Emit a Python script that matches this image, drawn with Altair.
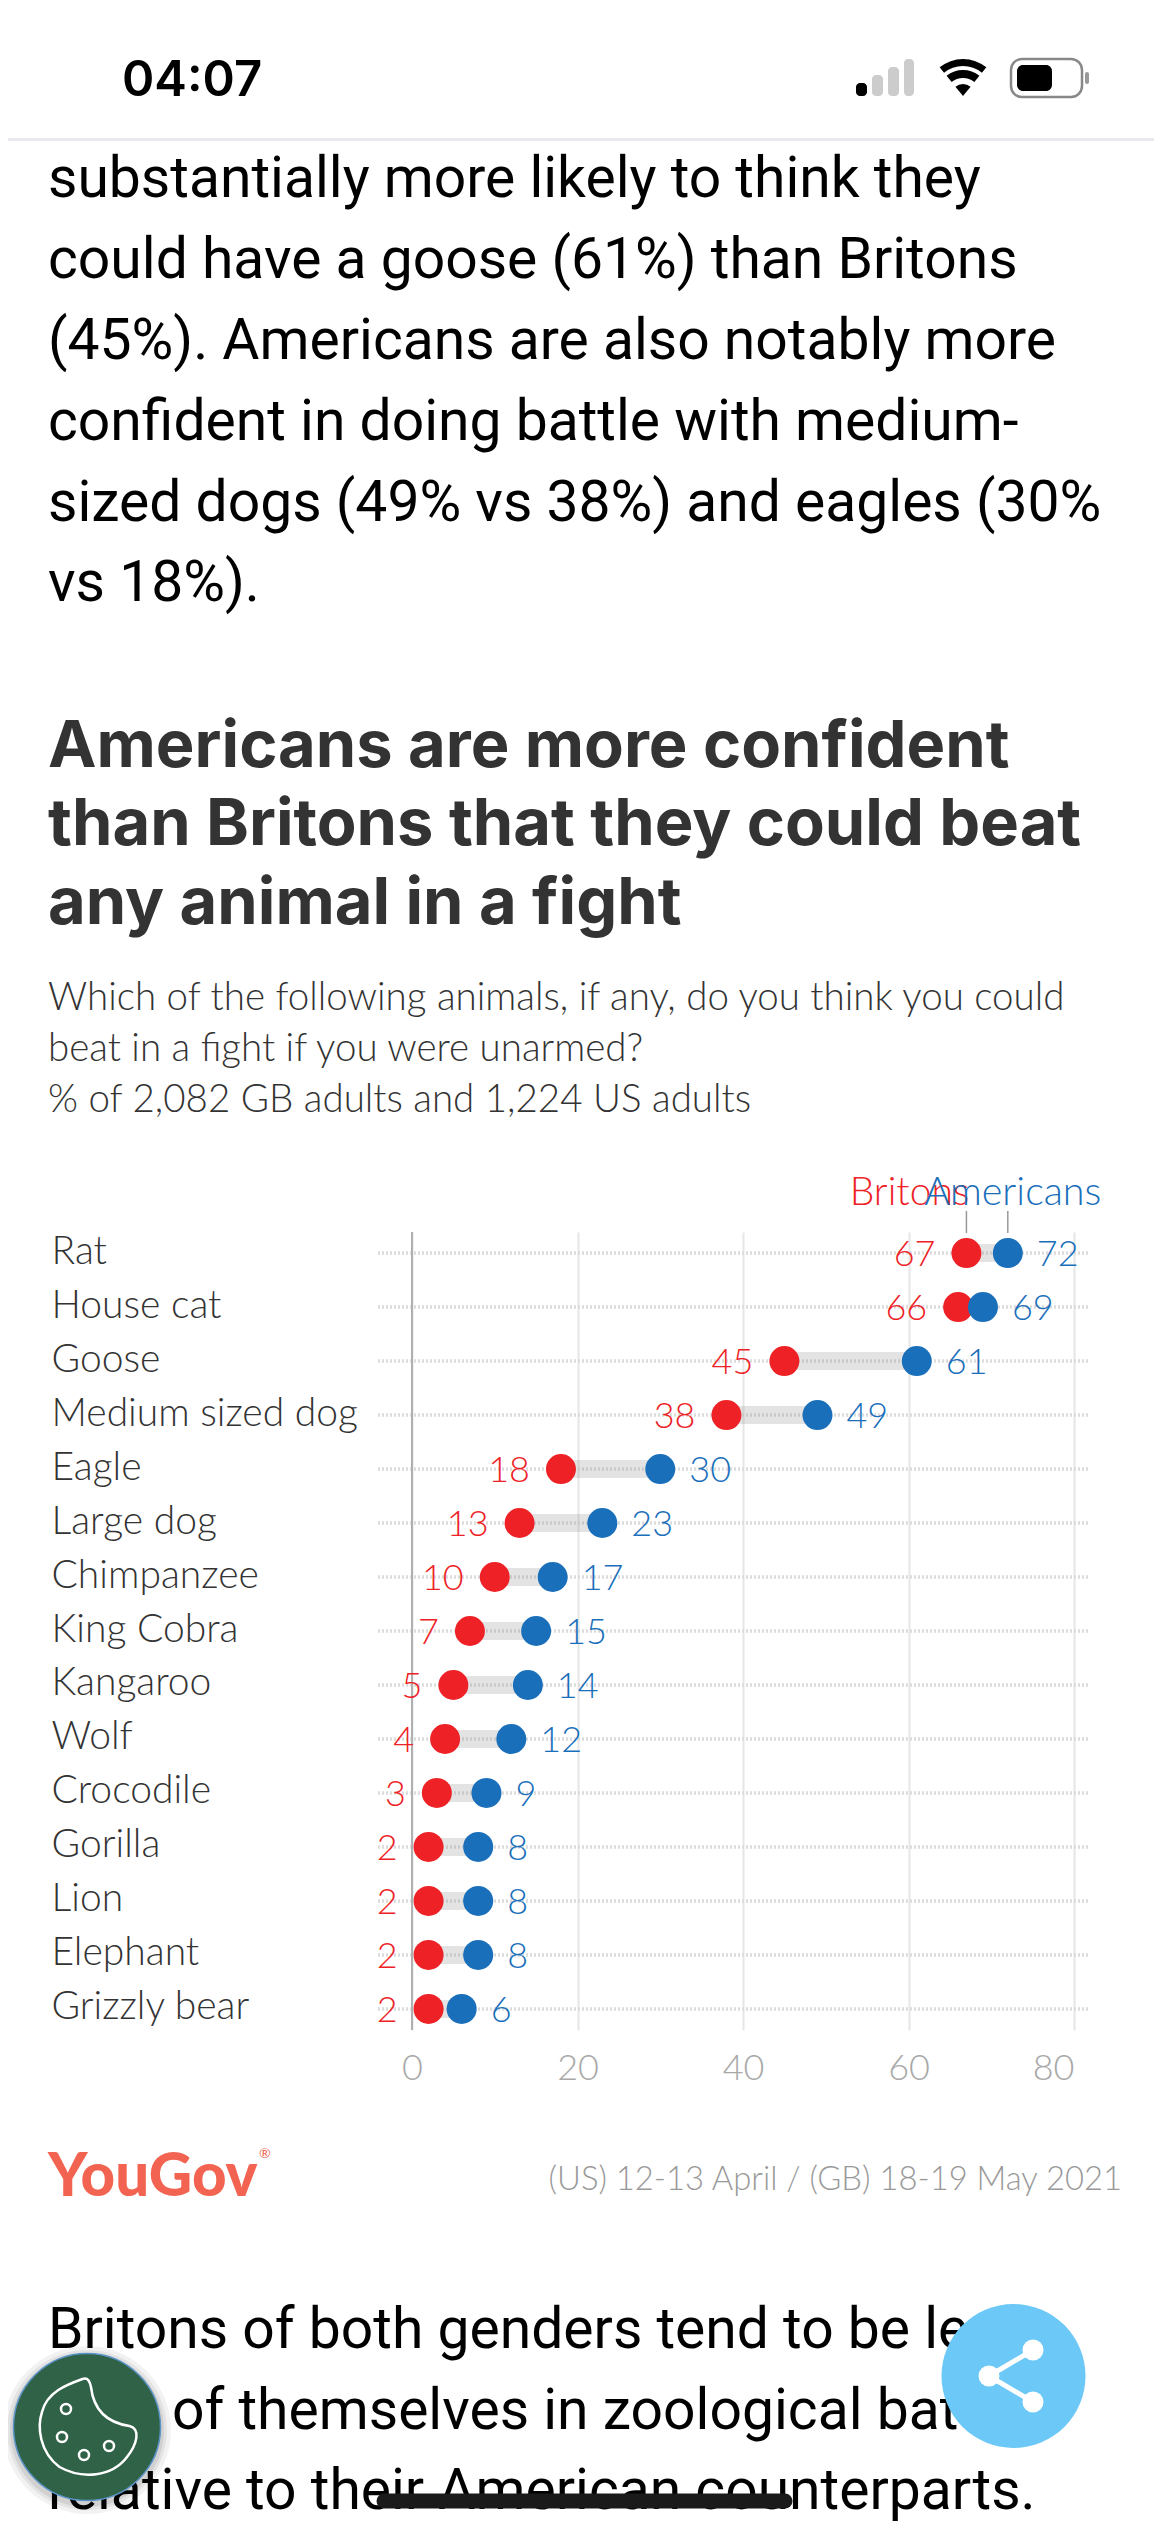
import altair as alt
import pandas as pd

animals = ["Rat","House cat","Goose","Medium sized dog","Eagle","Large dog","Chimpanzee","King Cobra",
           "Kangaroo","Wolf","Crocodile","Gorilla","Lion","Elephant","Grizzly bear"]
britons = [67,66,45,38,18,13,10,7,5,4,3,2,2,2,2]
americans = [72,69,61,49,30,23,17,15,14,12,9,8,8,8,6]
ticks = [0,20,40,60,80]

body_top = ["substantially more likely to think they","could have a goose (61%) than Britons",
            "(45%). Americans are also notably more","confident in doing battle with medium-",
            "sized dogs (49% vs 38%) and eagles (30%","vs 18%)."]
heading = ["Americans are more confident","than Britons that they could beat","any animal in a fight"]
subtitle = ["Which of the following animals, if any, do you think you could","beat in a fight if you were unarmed?",
            "% of 2,082 GB adults and 1,224 US adults"]
body_bottom = ["Britons of both genders tend to be less","sure of themselves in zoological battles",
               "relative to their American counterparts."]
source = "(US) 12-13 April / (GB) 18-19 May 2021"

RED, BLUE = "#ee2226", "#1a6fba"
OX, OY = 412, 1232
X = lambda v: v - OX
Y = lambda v: v - OY

df = pd.DataFrame({"animal": animals, "Britons": britons, "Americans": americans})
x_axis = alt.Axis(values=ticks, domain=False, ticks=False, grid=True, gridColor="#e6e6e6", gridWidth=2,
                  labelFont="Lato", labelFontWeight=300, labelFontSize=36, labelColor="#a8a8a8", labelPadding=21,
                  labelAlign={"condition": {"test": "datum.value == 80", "value": "right"}, "value": "center"})
y_axis = alt.Axis(domain=False, ticks=False, grid=False, labelAlign="left", labelPadding=361, labelLimit=0,
                  labelFont="Lato", labelFontWeight=300, labelFontSize=39, labelColor="#333333", labelOffset=-2)
xs = lambda f: alt.X(f + ":Q", scale=alt.Scale(domain=[0, 80], nice=False, zero=False), axis=x_axis, title=None)
ys = alt.Y("animal:N", sort=animals, scale=alt.Scale(type="point", padding=0.39), axis=y_axis, title=None)

layers = []

def text(s, px, py, size, color="#000000", font="Roboto", weight=400, align="left", baseline="alphabetic", **kw):
    layers.append(alt.Chart(pd.DataFrame({"t": [s]})).mark_text(
        font=font, fontSize=size, fontWeight=weight, color=color, align=align, baseline=baseline, **kw
    ).encode(x=alt.value(X(px)), y=alt.value(Y(py)), text="t:N"))

def rect(x1, x2, y1, y2, **kw):
    layers.append(alt.Chart(pd.DataFrame({"a": [0]})).mark_rect(**kw).encode(
        x=alt.value(X(x1)), x2=alt.value(X(x2)), y=alt.value(Y(y1)), y2=alt.value(Y(y2))))

def rule(x1, x2, y1, y2, **kw):
    layers.append(alt.Chart(pd.DataFrame({"a": [0]})).mark_rule(**kw).encode(
        x=alt.value(X(x1)), x2=alt.value(X(x2)), y=alt.value(Y(y1)), y2=alt.value(Y(y2))))

def dot(px, py, d, **kw):
    layers.append(alt.Chart(pd.DataFrame({"a": [0]})).mark_point(size=d * d, **kw).encode(
        x=alt.value(X(px)), y=alt.value(Y(py))))

def arc(px, py, r1, r2, **kw):
    layers.append(alt.Chart(pd.DataFrame({"a": [0]})).mark_arc(radius=r2, radius2=r1, theta=5.6, theta2=6.966, **kw).encode(
        x=alt.value(X(px)), y=alt.value(Y(py))))

# gridlines + category labels
layers.append(alt.Chart(df.assign(v=0)).mark_point(opacity=0).encode(x=xs("v"), y=ys))
# row guides
layers.append(alt.Chart(df).mark_rule(color="#dcdcdc", strokeWidth=3.5, strokeDash=[2, 2]).encode(
    x=alt.value(378 - OX), x2=alt.value(1089 - OX), y=ys))
# zero line
layers.append(alt.Chart(pd.DataFrame({"v": [0]})).mark_rule(color="#b0b0b0", strokeWidth=2).encode(
    x=xs("v"), y=alt.value(0), y2=alt.value(798)))
# connectors
layers.append(alt.Chart(df).mark_rule(color="#999999", opacity=0.28, strokeWidth=18).encode(
    x=xs("Britons"), x2="Americans:Q", y=ys))
# points
layers.append(alt.Chart(df).mark_circle(color=RED, size=900, opacity=1).encode(x=xs("Britons"), y=ys))
layers.append(alt.Chart(df).mark_circle(color=BLUE, size=900, opacity=1).encode(x=xs("Americans"), y=ys))
# value labels
layers.append(alt.Chart(df).mark_text(font="Lato", fontWeight=300, fontSize=36, color=RED, align="right", baseline="middle", dx=-31, dy=2).encode(
    x=xs("Britons"), y=ys, text="Britons:Q"))
layers.append(alt.Chart(df).mark_text(font="Lato", fontWeight=300, fontSize=36, color=BLUE, align="left", baseline="middle", dx=29, dy=2).encode(
    x=xs("Americans"), y=ys, text="Americans:Q"))
# series labels
top = df.iloc[:1]
layers.append(alt.Chart(top).mark_rule(color="#999999", strokeWidth=1.5).encode(x=xs("Britons"), y=alt.value(1211 - OY), y2=alt.value(1233 - OY)))
layers.append(alt.Chart(top).mark_rule(color="#999999", strokeWidth=1.5).encode(x=xs("Americans"), y=alt.value(1211 - OY), y2=alt.value(1233 - OY)))
layers.append(alt.Chart(top.assign(n="Britons")).mark_text(font="Lato", fontWeight=300, fontSize=39, color=RED, align="right", baseline="middle", dx=3).encode(
    x=xs("Britons"), y=alt.value(1193 - OY), text="n:N"))
layers.append(alt.Chart(top.assign(n="Americans")).mark_text(font="Lato", fontWeight=300, fontSize=39.5, color=BLUE, align="center", baseline="middle", dx=5).encode(
    x=xs("Americans"), y=alt.value(1193 - OY), text="n:N"))

# status bar
text("04:07", 122, 96, 49, font="Inter", weight=600)
rect(856, 867, 83, 96, color="#000000", cornerRadius=4)
rect(872, 883, 75, 96, color="#cccccc", cornerRadius=4)
rect(888, 899, 67, 96, color="#cccccc", cornerRadius=4)
rect(904, 914, 59, 96, color="#cccccc", cornerRadius=4)
arc(963, 96, 0, 12, color="#000000")
arc(963, 96, 18, 26, color="#000000")
arc(963, 96, 30, 37, color="#000000")
rect(1011, 1082, 59, 97, fill="#ffffff", stroke="#888888", strokeWidth=2.5, cornerRadius=11)
rect(1017, 1052, 65, 91, color="#000000", cornerRadius=6)
rect(1085, 1089, 72, 84, color="#999999", cornerRadius=2)
rect(0, 1154, 138, 141, color="#e9e9ee")

# text blocks
for s, b in zip(body_top, [197, 278, 359, 440, 521, 601]):
    text(s, 48, b, 57)
for s, b in zip(heading, [767, 845, 924]):
    text(s, 48, b, 65, color="#333333", font="Inter", weight=700)
for s, b in zip(subtitle, [1010, 1061, 1112]):
    text(s, 48, b, 38.5, color="#333333", font="Lato", weight=300)
for s, b in zip(body_bottom, [2348, 2429, 2509]):
    text(s, 48, b, 57)

# footer
text("YouGov", 48, 2196, 60, color="#f26451", font="Lato", weight=900)
text("®", 259, 2158, 14, color="#f26451", font="Lato")
text(source, 1122, 2190, 32.8, color="#999999", font="Lato", weight=300, align="right")

# floating buttons
dot(1013.5, 2376, 144, filled=True, color="#6bc8f7", opacity=1)
rule(1033, 989, 2350, 2376, color="#ffffff", strokeWidth=5)
rule(989, 1033, 2376, 2402, color="#ffffff", strokeWidth=5)
for py in (2350, 2376, 2402):
    dot(1033 if py != 2376 else 989, py, 21, filled=True, color="#ffffff", opacity=1)
for d, o in ((168, 0.05), (160, 0.06), (154, 0.08)):
    dot(87, 2430, d, filled=True, color="#000000", opacity=o)
dot(87, 2427, 147, filled=True, fill="#2f6246", stroke="#5b93c7", strokeWidth=1.5, opacity=1)
cookie = "M -0.09 -0.96 C 0.02 -1 0.06 -0.9 0.08 -0.8 C 0.12 -0.45 0.3 -0.1 0.85 -0.02 C 1.08 0.04 1 0.35 0.8 0.6 C 0.5 1 -0.1 1.05 -0.55 0.8 C -0.95 0.5 -1 0 -0.9 -0.3 C -0.8 -0.7 -0.4 -0.85 -0.09 -0.96 Z"
dot(87, 2427, 100, shape=cookie, filled=False, stroke="#ffffff", strokeWidth=2.5, opacity=1)
for dx_, dy_ in ((-21, -18), (-25, 10), (-3, 28), (22, 19)):
    dot(87 + dx_, 2427 + dy_, 10, filled=False, stroke="#ffffff", strokeWidth=2.5, opacity=1)

# home indicator
rule(384, 785, 2501, 2501, color="#1a1a1a", strokeWidth=15, strokeCap="round")

chart = alt.layer(*layers).properties(
    width=662, height=798,
    padding={"left": 404, "top": 1224, "right": 88, "bottom": 498},
    autosize=alt.AutoSizeParams(type="none", contains="content"),
    background="#ffffff",
).configure_view(stroke=None)

chart.save("out.html", embed_options={"renderer": "svg", "actions": False})
